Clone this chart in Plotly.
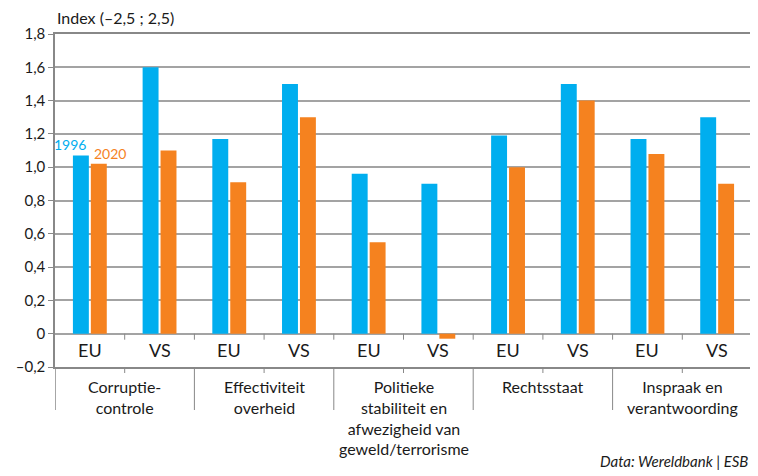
import plotly.graph_objects as go

groups = ["Corruptie-<br>controle", "Effectiviteit<br>overheid",
          "Politieke<br>stabiliteit en<br>afwezigheid van<br>geweld/terrorisme",
          "Rechtsstaat", "Inspraak en<br>verantwoording"]
countries = ["EU", "VS"]
values_1996 = [1.07, 1.60, 1.17, 1.50, 0.96, 0.90, 1.19, 1.50, 1.17, 1.30]
values_2020 = [1.02, 1.10, 0.91, 1.30, 0.55, -0.03, 1.00, 1.40, 1.08, 0.90]
y_ticks = [-0.2, 0, 0.2, 0.4, 0.6, 0.8, 1.0, 1.2, 1.4, 1.6, 1.8]

_BLUE = "#00aeef"
_ORANGE = "#f5821f"
_GRID = "#a3a3a3"
_LINE = "#888888"
_FONT = "Lato"

n = len(groups) * len(countries)
xs = list(range(n))
sub_labels = countries * len(groups)


def fmt(v):
    if v == 0:
        return "0"
    s = f"{abs(v):.1f}".replace(".", ",")
    return ("\u2013" if v < 0 else "") + s


fig = go.Figure()
fig.add_trace(go.Bar(x=xs, y=values_1996, name="1996", marker_color=_BLUE, marker_line_width=0))
fig.add_trace(go.Bar(x=xs, y=values_2020, name="2020", marker_color=_ORANGE, marker_line_width=0))

# the page body adds an 8px margin, so the figure is 8px smaller each way
W, H = 750, 468
M = dict(l=47, r=4, t=26, b=109)
plot_h = H - M["t"] - M["b"]
ppu = plot_h / 2.0

shapes = []
# small ticks below the 0 line at every sub-category boundary
for i in range(n - 1):
    b = i + 0.5
    shapes.append(dict(type="line", xref="x", yref="y", x0=b, x1=b, y0=0, y1=-6 / ppu,
                       line=dict(color=_LINE, width=1)))
# separators below the -0.2 line
for i in range(n - 1):
    b = i + 0.5
    y1 = -43 / plot_h if i % 2 == 1 else -6 / plot_h
    shapes.append(dict(type="line", xref="x", yref="paper", x0=b, x1=b, y0=0, y1=y1,
                       line=dict(color=_LINE, width=1)))
for b in (-0.5, n - 0.5):
    shapes.append(dict(type="line", xref="x", yref="paper", x0=b, x1=b, y0=0, y1=-43 / plot_h,
                       line=dict(color=_LINE, width=1.5)))

annotations = []
for x, lab in zip(xs, sub_labels):
    annotations.append(dict(x=x, y=-0.1, xref="x", yref="y", text=lab, showarrow=False,
                            font=dict(size=18, color="#1a1a1a")))
for g, lab in enumerate(groups):
    annotations.append(dict(x=2 * g + 0.5, y=-8 / plot_h, xref="x", yref="paper", text=lab,
                            showarrow=False, yanchor="top", align="center",
                            font=dict(size=16, color="#1a1a1a")))

annotations += [
    dict(x=-0.03, y=values_1996[0], xref="x", yref="y", text="1996", showarrow=False,
         xanchor="right", yanchor="bottom", yshift=1, font=dict(size=14, color=_BLUE)),
    dict(x=0.03, y=values_2020[0], xref="x", yref="y", text="2020", showarrow=False,
         xanchor="left", yanchor="bottom", yshift=0, font=dict(size=14, color=_ORANGE)),
    dict(x=0, y=1 + 16 / plot_h, xref="paper", yref="paper", text="Index (\u20132,5 ; 2,5)",
         showarrow=False, xanchor="left", yanchor="middle", xshift=0,
         font=dict(size=16, color="#1a1a1a")),
    dict(x=1, y=-94 / plot_h, xref="paper", yref="paper", text="<i>Data: Wereldbank | ESB</i>",
         showarrow=False, xanchor="right", yanchor="middle", xshift=-2,
         font=dict(size=15, color="#1a1a1a")),
]

fig.update_layout(
    width=W, height=H,
    margin=M,
    paper_bgcolor="white", plot_bgcolor="white",
    barmode="group", bargap=34 / 70, bargroupgap=2 / 18,
    showlegend=False,
    font=dict(family=_FONT, color="#1a1a1a"),
    shapes=shapes, annotations=annotations,
)
fig.update_xaxes(range=[-0.5, n - 0.5], showticklabels=False, showgrid=False, zeroline=False,
                 showline=True, mirror=True, linecolor=_LINE, linewidth=1.5, ticks="")
fig.update_yaxes(range=[-0.2, 1.8], tickvals=y_ticks, ticktext=[fmt(v) for v in y_ticks],
                 showgrid=True, gridcolor=_GRID, gridwidth=1.5, zeroline=False,
                 showline=True, mirror=True, linecolor=_LINE, linewidth=1.5,
                 ticks="outside", ticklen=5, tickcolor=_LINE, tickfont=dict(size=15, color="#1a1a1a"))

fig.write_html("out.html")
